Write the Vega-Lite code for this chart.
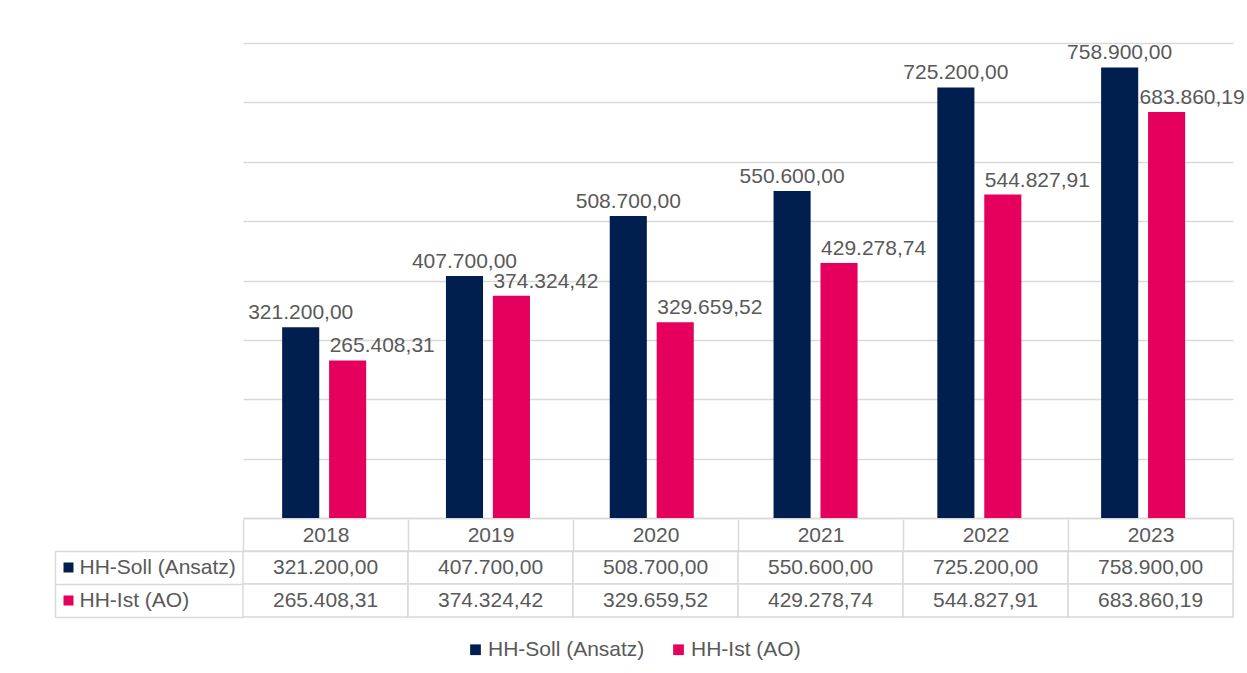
{
  "$schema": "https://vega.github.io/schema/vega-lite/v6.json",
  "background": "white",
  "padding": {"left": 54, "top": 42, "right": 0, "bottom": 0},
  "config": {
    "locale": {"number": {"decimal": ",", "thousands": ".", "grouping": [3], "currency": ["", " €"]}},
    "font": "Liberation Sans",
    "view": {"stroke": null},
    "concat": {"spacing": 0}
  },
  "datasets": {
    "budget": [
      {"Jahr": "2018", "Reihe": "HH-Soll (Ansatz)", "Wert": 321200.00},
      {"Jahr": "2018", "Reihe": "HH-Ist (AO)", "Wert": 265408.31},
      {"Jahr": "2019", "Reihe": "HH-Soll (Ansatz)", "Wert": 407700.00},
      {"Jahr": "2019", "Reihe": "HH-Ist (AO)", "Wert": 374324.42},
      {"Jahr": "2020", "Reihe": "HH-Soll (Ansatz)", "Wert": 508700.00},
      {"Jahr": "2020", "Reihe": "HH-Ist (AO)", "Wert": 329659.52},
      {"Jahr": "2021", "Reihe": "HH-Soll (Ansatz)", "Wert": 550600.00},
      {"Jahr": "2021", "Reihe": "HH-Ist (AO)", "Wert": 429278.74},
      {"Jahr": "2022", "Reihe": "HH-Soll (Ansatz)", "Wert": 725200.00},
      {"Jahr": "2022", "Reihe": "HH-Ist (AO)", "Wert": 544827.91},
      {"Jahr": "2023", "Reihe": "HH-Soll (Ansatz)", "Wert": 758900.00},
      {"Jahr": "2023", "Reihe": "HH-Ist (AO)", "Wert": 683860.19}
    ]
  },
  "vconcat": [
    {
      "width": 990,
      "height": 475,
      "data": {"name": "budget"},
      "encoding": {
        "x": {"field": "Jahr", "type": "nominal", "scale": {"paddingInner": 0.487, "paddingOuter": 0.2656, "align": 0.45},
          "axis": {"title": null, "labels": false, "ticks": false, "domain": true, "domainColor": "#d9d9d9", "domainWidth": 1.5}},
        "xOffset": {"field": "Reihe", "type": "nominal", "scale": {"domain": ["HH-Soll (Ansatz)", "HH-Ist (AO)"], "paddingInner": 0.21, "paddingOuter": 0}},
        "y": {"field": "Wert", "type": "quantitative", "scale": {"domain": [0, 800000], "nice": false},
          "axis": {"title": null, "labels": false, "ticks": false, "domain": false,
            "values": [0, 100000, 200000, 300000, 400000, 500000, 600000, 700000, 800000],
            "gridColor": "#d9d9d9", "gridWidth": 1.5}}
      },
      "layer": [
        {
          "mark": {"type": "bar"},
          "encoding": {
            "color": {"field": "Reihe", "type": "nominal",
              "scale": {"domain": ["HH-Soll (Ansatz)", "HH-Ist (AO)"], "range": ["#001E4E", "#E6005E"]},
              "legend": {"title": null, "orient": "none", "legendX": 222, "legendY": 596, "direction": "horizontal",
                "symbolType": "square", "symbolSize": 115, "symbolStrokeWidth": 0,
                "labelFontSize": 21, "labelColor": "#595959", "labelOffset": 2, "columnPadding": 23}}
          }
        },
        {
          "transform": [{"filter": "datum.Reihe === 'HH-Soll (Ansatz)'"}],
          "mark": {"type": "text", "align": "center", "baseline": "alphabetic", "dy": -8, "fontSize": 21, "color": "#595959"},
          "encoding": {"text": {"field": "Wert", "type": "quantitative", "format": ",.2f"}}
        },
        {
          "transform": [{"filter": "datum.Reihe === 'HH-Ist (AO)' && datum.Jahr !== '2023'"}],
          "mark": {"type": "text", "align": "left", "baseline": "alphabetic", "dx": -18, "dy": -8, "fontSize": 21, "color": "#595959"},
          "encoding": {"text": {"field": "Wert", "type": "quantitative", "format": ",.2f"}}
        },
        {
          "transform": [{"filter": "datum.Reihe === 'HH-Ist (AO)' && datum.Jahr === '2023'"}],
          "mark": {"type": "text", "align": "left", "baseline": "alphabetic", "dx": -27, "dy": -8, "fontSize": 21, "color": "#595959"},
          "encoding": {"text": {"field": "Wert", "type": "quantitative", "format": ",.2f"}}
        }
      ]
    },
    {
      "width": 990,
      "height": 66,
      "data": {"name": "budget"},
      "encoding": {
        "x": {"field": "Jahr", "type": "nominal", "scale": {"paddingInner": 0, "paddingOuter": 0},
          "axis": {"orient": "top", "title": null, "domain": true, "domainColor": "#d9d9d9", "domainWidth": 1.5,
            "ticks": true, "tickBand": "extent", "tickSize": 32, "tickColor": "#d9d9d9", "tickWidth": 1.5,
            "labelPadding": -16, "labelBaseline": "middle", "labelFontSize": 21, "labelColor": "#595959", "labelAngle": 0}}
      },
      "layer": [
        {
          "mark": {"type": "rect", "fill": "white", "stroke": "#d9d9d9", "strokeWidth": 1.5},
          "encoding": {
            "y": {"field": "Reihe", "type": "nominal", "sort": ["HH-Soll (Ansatz)", "HH-Ist (AO)"],
              "scale": {"paddingInner": 0, "paddingOuter": 0},
              "axis": {"orient": "left", "title": null, "domain": false, "ticks": true, "tickBand": "extent",
                "tickSize": 188, "tickColor": "#d9d9d9", "tickWidth": 1.5,
                "labelAlign": "left", "labelPadding": -24, "labelBaseline": "middle", "labelFontSize": 21, "labelColor": "#595959"}}
          }
        },
        {
          "mark": {"type": "text", "fontSize": 21, "color": "#595959", "baseline": "middle"},
          "encoding": {
            "y": {"field": "Reihe", "type": "nominal", "sort": ["HH-Soll (Ansatz)", "HH-Ist (AO)"],
              "axis": {"orient": "left", "offset": 170, "title": null, "domain": false, "labels": false,
                "ticks": true, "tickSize": 10, "tickWidth": 10,
                "tickColor": {"condition": {"test": "datum.value === 'HH-Soll (Ansatz)'", "value": "#001E4E"}, "value": "#E6005E"}}},
            "text": {"field": "Wert", "type": "quantitative", "format": ",.2f"}
          }
        },
        {
          "mark": {"type": "rect", "opacity": 0},
          "encoding": {
            "y": {"field": "Reihe", "type": "nominal", "sort": ["HH-Soll (Ansatz)", "HH-Ist (AO)"],
              "axis": {"orient": "left", "offset": 188, "title": null, "domain": true, "domainColor": "#d9d9d9", "domainWidth": 1.5,
                "labels": false, "ticks": false}}
          }
        }
      ],
      "resolve": {"axis": {"y": "independent"}}
    }
  ]
}
